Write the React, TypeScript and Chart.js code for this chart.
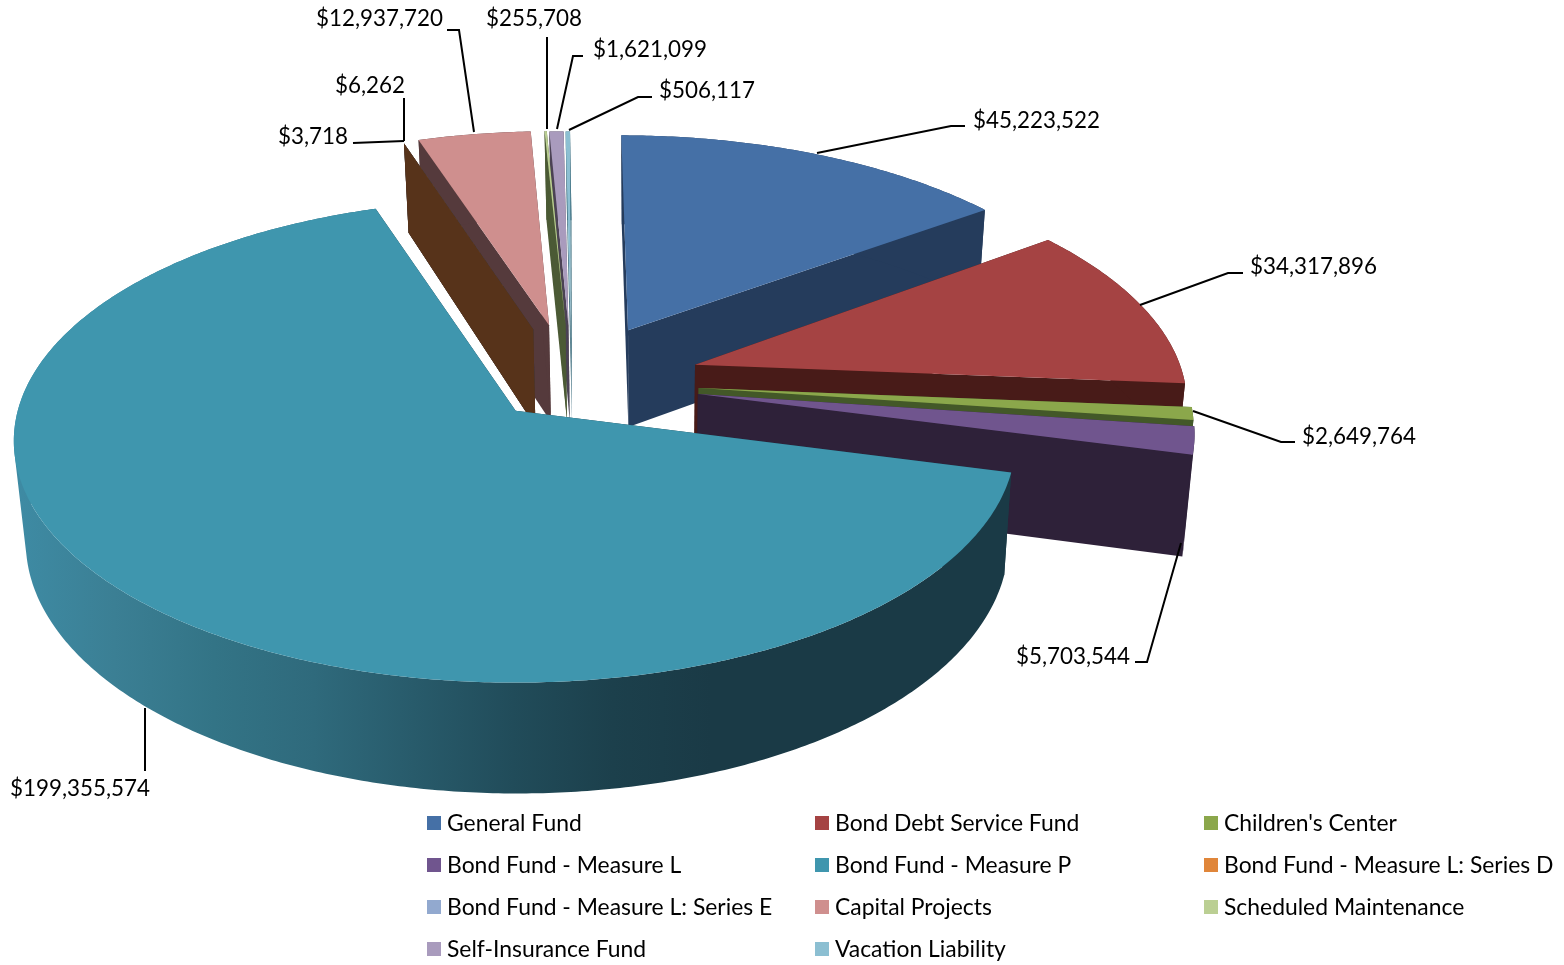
import React, { useEffect, useRef } from "react";
import { Chart, registerables } from "chart.js";

Chart.register(...registerables);

const categories = [
  "General Fund", "Bond Debt Service Fund", "Children's Center",
  "Bond Fund - Measure L", "Bond Fund - Measure P", "Bond Fund - Measure L: Series D",
  "Bond Fund - Measure L: Series E", "Capital Projects", "Scheduled Maintenance",
  "Self-Insurance Fund", "Vacation Liability",
];
const values = [45223522, 34317896, 2649764, 5703544, 199355574, 3718, 6262, 12937720, 255708, 1621099, 506117];
const topColors = ["#4570A6", "#A54343", "#8BA74B", "#70558E", "#3F96AE", "#E0863A", "#92A9CF", "#CF8F8E", "#BBCF93", "#A99BBD", "#8CBFD2"];
const sideColors = ["#253C5C", "#481B18", "#435828", "#2E2139", "#1A3A46", "#57331A", "#2F3D55", "#553A3C", "#4B5A35", "#4B4254", "#3F6F7F"];

// back-to-front painting order of the slices
const paintOrder = [10, 9, 8, 7, 6, 5, 0, 1, 2, 3, 4];

// camera that maps the tilted pie plane onto the page
const camera = { ox: 515, oy: 411, ax: 497, by: 238, persp: 0.125, cu: 0.145, cv: -0.146, explode: 0.21, depth: 100, depthGrow: 0.04, shrink: 0.981, shrinkX: 645 };

// small per-slice corrections of the explosion, in page pixels
const sliceNudge: [number, number][] = [
  [5, -5], [12, 1], [7, 6], [7, 8], [-1, -2], [-13, -3], [-13, -3], [-10, -6], [-8, -6], [-7, -5], [-7, -5],
];
const apexShift = [-6, 0, 3, 3, 1, -7, -7, -7, -6, -6, -6];

// side shading of the large slice, left to right
const rimStops: [number, string][] = [
  [0, "#3E8BA4"], [0.1, "#3B7F94"], [0.2, "#337486"], [0.3, "#2F6A7C"], [0.4, "#285B6B"],
  [0.5, "#214C5A"], [0.6, "#1C404C"], [0.7, "#1A3A46"], [1, "#1A3A46"],
];

// label text anchor and leader line per slice
const labelAnchors: [number, number, CanvasTextAlign][] = [
  [973, 121, "left"], [1250, 267, "left"], [1302, 437, "left"], [1130, 657, "right"], [80, 789, "center"],
  [348, 137, "right"], [405, 86, "right"], [443, 19, "right"], [582, 19, "right"], [593, 50, "left"], [659, 91, "left"],
];
const leaders: number[][][] = [
  [[817, 153], [951, 126], [965, 126]],
  [[1140, 305], [1228, 273], [1243, 273]],
  [[1193, 411], [1281, 442], [1295, 442]],
  [[1181, 543], [1147, 662], [1135, 662]],
  [[145, 708], [145, 771]],
  [[353, 143], [404, 141]],
  [[404, 98], [404, 141]],
  [[447, 30], [459, 30], [474, 132]],
  [[547, 37], [547, 129]],
  [[583, 56], [573, 56], [557, 129]],
  [[652, 97], [638, 97], [569, 130]],
];

// legend grid
const legendCols = [427, 815, 1204];
const legendRows = [824, 866, 908, 950];
const LABEL_FONT = '22.4px Lato, "Open Sans", sans-serif';
const LEGEND_FONT = '22.9px Lato, "Open Sans", sans-serif';

type Pt = [number, number];

function topPt(U: number, V: number): Pt {
  const w = 1 - camera.persp * V;
  return [camera.ox + (camera.ax * U) / w, camera.oy + (camera.by * V) / w];
}
function lowPt(p: Pt): Pt {
  return [
    camera.shrinkX + (p[0] - camera.shrinkX) * camera.shrink,
    p[1] + camera.depth + (p[1] - camera.oy) * camera.depthGrow,
  ];
}

function addPoly(ctx: CanvasRenderingContext2D, pts: Pt[]) {
  pts.forEach((p, i) => (i ? ctx.lineTo(p[0], p[1]) : ctx.moveTo(p[0], p[1])));
  ctx.closePath();
}
function fillPoly(ctx: CanvasRenderingContext2D, pts: Pt[], fill: string | CanvasGradient) {
  ctx.beginPath();
  addPoly(ctx, pts);
  ctx.fillStyle = fill;
  ctx.fill();
}
function signedArea(q: Pt[]) {
  let s = 0;
  q.forEach((p, i) => {
    const n = q[(i + 1) % q.length];
    s += p[0] * n[1] - n[0] * p[1];
  });
  return s;
}

const pie3d = {
  id: "pie3d",
  beforeDatasetDraw(chart: any) {
    const ctx: CanvasRenderingContext2D = chart.ctx;
    const arcs = chart.getDatasetMeta(0).data;
    ctx.save();
    for (const i of paintOrder) {
      const arc = arcs[i];
      const start: number = arc.startAngle;
      const end: number = arc.endAngle;
      const mid = (start + end) / 2;
      const cx = camera.cu + camera.explode * Math.cos(mid) + sliceNudge[i][0] / camera.ax;
      const cy = camera.cv + camera.explode * Math.sin(mid) + sliceNudge[i][1] / camera.by;
      const apex = topPt(cx, cy);
      apex[0] += apexShift[i];
      const steps = Math.max(2, Math.ceil((end - start) / 0.01));
      const edge: Pt[] = [];
      for (let s = 0; s <= steps; s++) {
        const a = start + ((end - start) * s) / steps;
        edge.push(topPt(cx + Math.cos(a), cy + Math.sin(a)));
      }
      const low = edge.map(lowPt);
      const side = sideColors[i];
      const apexLow = lowPt(apex);
      fillPoly(ctx, [apex, edge[0], low[0], apexLow], side);
      fillPoly(ctx, [apex, edge[steps], low[steps], apexLow], side);
      let rimFill: string | CanvasGradient = side;
      if (i === 4) {
        const g = ctx.createLinearGradient(15, 0, 1010, 0);
        rimStops.forEach(([o, c]) => g.addColorStop(o, c));
        rimFill = g;
      }
      // one path of equally wound quads, so the band has no seams and no holes at its folds
      ctx.beginPath();
      for (let s = 0; s < steps; s++) {
        const q: Pt[] = [edge[s], edge[s + 1], low[s + 1], low[s]];
        addPoly(ctx, signedArea(q) < 0 ? q.reverse() : q);
      }
      ctx.fillStyle = rimFill;
      ctx.fill();
      fillPoly(ctx, [apex, ...edge], topColors[i]);
    }
    ctx.restore();
    return false;
  },
  afterDraw(chart: any) {
    const ctx: CanvasRenderingContext2D = chart.ctx;
    ctx.save();
    ctx.font = LABEL_FONT;
    ctx.textBaseline = "middle";
    ctx.strokeStyle = "#000000";
    ctx.lineWidth = 2;
    ctx.fillStyle = "#000000";
    values.forEach((v, i) => {
      const path = leaders[i];
      ctx.beginPath();
      path.forEach((p, k) => (k ? ctx.lineTo(p[0], p[1]) : ctx.moveTo(p[0], p[1])));
      ctx.stroke();
      const [x, y, align] = labelAnchors[i];
      ctx.textAlign = align;
      ctx.fillText("$" + v.toLocaleString("en-US"), x, y);
    });
    ctx.textAlign = "left";
    ctx.font = LEGEND_FONT;
    categories.forEach((name, i) => {
      const col = legendCols[i % 3];
      const row = legendRows[Math.floor(i / 3)];
      ctx.fillStyle = topColors[i];
      ctx.fillRect(col, row - 8, 14, 14);
      ctx.fillStyle = "#000000";
      ctx.fillText(name, col + 20, row);
    });
    ctx.restore();
  },
};

export default function App() {
  const ref = useRef<HTMLCanvasElement>(null);
  useEffect(() => {
    const chart = new Chart(ref.current as HTMLCanvasElement, {
      type: "pie",
      data: {
        labels: categories,
        datasets: [{ data: values, backgroundColor: topColors, borderWidth: 0 }],
      },
      options: {
        animation: false,
        responsive: false,
        devicePixelRatio: 1,
        rotation: 0,
        plugins: { legend: { display: false }, tooltip: { enabled: false } },
      },
      plugins: [pie3d],
    } as any);
    return () => chart.destroy();
  }, []);
  return (
    <div style={{ position: "fixed", left: 0, top: 0, width: 1564, height: 965, background: "#fff" }}>
      <canvas ref={ref} width={1564} height={965} style={{ display: "block" }} />
    </div>
  );
}
